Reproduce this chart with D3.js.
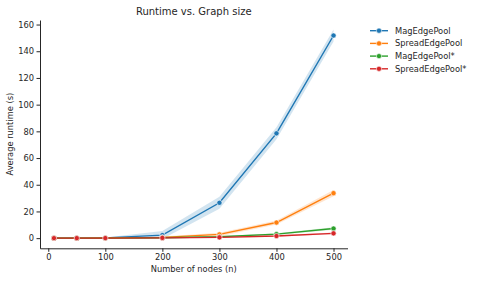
<!DOCTYPE html>
<html>
<head>
<meta charset="utf-8">
<script src="https://cdn.jsdelivr.net/npm/d3@7"></script>
<style>
  body { margin: 0; background: #fff; }
  text { font-family: "DejaVu Sans", sans-serif; fill: #262626; }
</style>
</head>
<body>
<svg id="svg1" width="478" height="281"></svg>
<script>
"use strict";

// data
const nodes = [10, 50, 100, 200, 300, 400, 500];
const seriesNames = ["MagEdgePool", "SpreadEdgePool", "MagEdgePool*", "SpreadEdgePool*"];
const colors = ["#1f77b4", "#ff7f0e", "#2ca02c", "#d62728"];
const magEdge = [0.02, 0.05, 0.2, 2.3, 26.5, 78.5, 151.8];
const spreadEdge = [0.01, 0.03, 0.1, 0.6, 2.8, 11.7, 33.7];
const magEdgeStar = [0.01, 0.02, 0.05, 0.3, 1.0, 3.0, 7.2];
const spreadEdgeStar = [0.01, 0.02, 0.04, 0.2, 0.6, 1.6, 3.6];
// half width of the confidence band
const magEdgeCI = [0.05, 0.1, 0.3, 3.0, 4.5, 4.5, 4.5];
const spreadEdgeCI = [0.02, 0.05, 0.1, 0.6, 1.3, 1.5, 2.4];
const magEdgeStarCI = [0.01, 0.02, 0.05, 0.3, 0.5, 0.7, 0.9];
const spreadEdgeStarCI = [0.01, 0.02, 0.05, 0.2, 0.4, 0.5, 0.6];
const xTicks = [0, 100, 200, 300, 400, 500];
const yTicks = [0, 20, 40, 60, 80, 100, 120, 140, 160];

const values = [magEdge, spreadEdge, magEdgeStar, spreadEdgeStar];
const cis = [magEdgeCI, spreadEdgeCI, magEdgeStarCI, spreadEdgeStarCI];

const svg = d3.select("#svg1");
const plotLeft = 40, plotRight = 347.5, plotTop = 20, plotBottom = 248.3;

const x = d3.scaleLinear().domain([-14.5, 524.5]).range([plotLeft, plotRight]);
const y = d3.scaleLinear().domain([-7.6, 163.4]).range([plotBottom, plotTop]);

const series = seriesNames.map((name, i) => ({
  name: name,
  color: colors[i],
  points: nodes.map((n, j) => ({n: n, v: values[i][j], ci: cis[i][j]}))
}));

// bands
const area = d3.area()
  .x(d => x(d.n))
  .y0(d => y(d.v - d.ci))
  .y1(d => y(d.v + d.ci));

svg.append("g").selectAll("path")
  .data(series)
  .enter().append("path")
  .attr("d", d => area(d.points))
  .attr("fill", d => d.color)
  .attr("fill-opacity", 0.2)
  .attr("stroke", "none");

const line = d3.line().x(d => x(d.n)).y(d => y(d.v));

const g = svg.append("g");
series.forEach(s => {
  g.append("path")
    .attr("d", line(s.points))
    .attr("fill", "none")
    .attr("stroke", s.color)
    .attr("stroke-width", 1.4);
  g.selectAll(null)
    .data(s.points)
    .enter().append("circle")
    .attr("cx", d => x(d.n))
    .attr("cy", d => y(d.v))
    .attr("r", 2.6)
    .attr("fill", s.color)
    .attr("stroke", "#fff")
    .attr("stroke-width", 0.6);
});

// axes
const xAxis = svg.append("g")
  .attr("transform", `translate(0,${plotBottom})`)
  .call(d3.axisBottom(x).tickValues(xTicks).tickSize(3.5).tickPadding(2.5).tickSizeOuter(0));
const yAxis = svg.append("g")
  .attr("transform", `translate(${plotLeft},0)`)
  .call(d3.axisLeft(y).tickValues(yTicks).tickSize(3.5).tickPadding(2.5).tickSizeOuter(0));

[xAxis, yAxis].forEach(a => {
  a.select(".domain").attr("stroke", "#262626").attr("stroke-width", 1);
  a.selectAll(".tick line").attr("stroke", "#262626").attr("stroke-width", 1);
  a.selectAll(".tick text").style("font-size", "8.3px").style("font-family", "DejaVu Sans").attr("fill", "#262626");
});

// labels
svg.append("text")
  .attr("x", (plotLeft + plotRight) / 2)
  .attr("y", 14.5)
  .attr("text-anchor", "middle")
  .style("font-size", "10px")
  .text("Runtime vs. Graph size");

svg.append("text")
  .attr("x", (plotLeft + plotRight) / 2)
  .attr("y", 272)
  .attr("text-anchor", "middle")
  .style("font-size", "8.3px")
  .text("Number of nodes (n)");

svg.append("text")
  .attr("transform", `translate(13,${(plotTop + plotBottom) / 2}) rotate(-90)`)
  .attr("text-anchor", "middle")
  .style("font-size", "8.3px")
  .text("Average runtime (s)");

// legend
const legend = svg.selectAll(".legend")
  .data(series)
  .enter().append("g")
  .attr("class", "legend")
  .attr("transform", (d, i) => `translate(370,${30.7 + i * 12.7})`);

legend.append("line")
  .attr("x1", 0).attr("x2", 18)
  .attr("stroke", d => d.color)
  .attr("stroke-width", 1.4);
legend.append("circle")
  .attr("cx", 9).attr("r", 2.6)
  .attr("fill", d => d.color)
  .attr("stroke", "#fff").attr("stroke-width", 0.6);
legend.append("text")
  .attr("x", 25)
  .attr("dy", "0.35em")
  .style("font-size", "8.3px")
  .text(d => d.name);
</script>
</body>
</html>
